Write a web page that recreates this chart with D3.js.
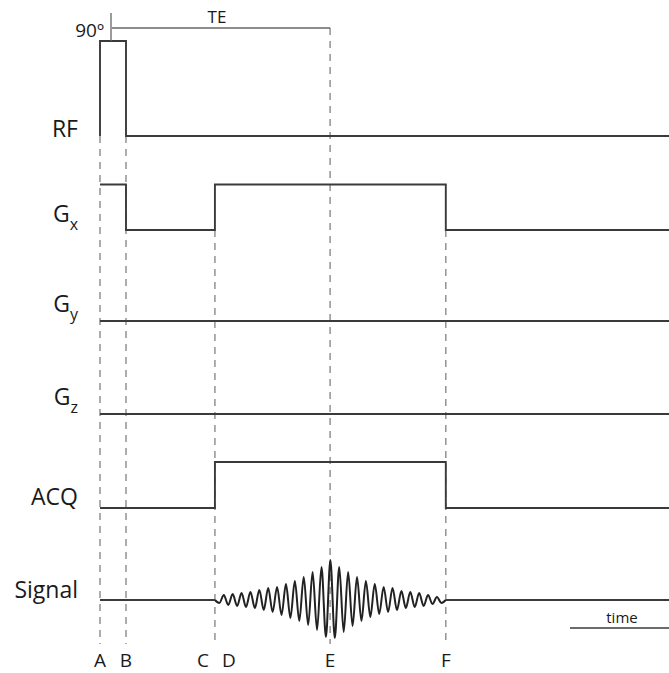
<!DOCTYPE html>
<html>
<head>
<meta charset="utf-8">
<script src="https://cdn.jsdelivr.net/npm/d3@7"></script>
<style>
  html, body { margin: 0; padding: 0; background: #fff; }
  svg { display: block; }
  text { font-family: "Open Sans", "Noto Sans", sans-serif; fill: #1a1a1a; }
</style>
</head>
<body>
<svg id="chart" width="669" height="673"></svg>
<script>
// ---------------- DATA ----------------
// event markers (time, arbitrary units)
const eventNames = ["A", "B", "C", "D", "E", "F"];
const eventTimes = [0, 1, 4.42, 4.42, 8.85, 13.3];
const endTime = 21.9;

// channel names
const channels = ["RF", "Gx", "Gy", "Gz", "ACQ", "Signal"];

// step waveforms: [time, level] (level 0 = baseline, 1 = on)
const rfWave  = [[0, 0], [0, 1], [1, 1], [1, 0], [21.9, 0]];
const gxWave  = [[0, 1], [1, 1], [1, 0], [4.42, 0], [4.42, 1], [13.3, 1], [13.3, 0], [21.9, 0]];
const gyWave  = [[0, 0], [21.9, 0]];
const gzWave  = [[0, 0], [21.9, 0]];
const acqWave = [[0, 0], [4.42, 0], [4.42, 1], [13.3, 1], [13.3, 0], [21.9, 0]];

// echo signal: successive peak / trough values between C and F
const signalExtremes = [
  -3, 5, -5, 6, -6, 7, -7, 8, -8, 10, -10, 12, -12, 13, -15, 16, -18, 19, -21, 23, -25, 28, -30, 33, -37,
  40,
  -38, 33, -32, 28, -26, 23, -21, 19, -17, 16, -14, 13, -12, 12, -10, 9, -8, 8, -7, 7, -6, 5, -4, 3, -3
];

const pulseLabel = "90º";
const teLabel = "TE";
const timeLabel = "time";

// ---------------- LAYOUT ----------------
const svg = d3.select("#chart");
const x = d3.scaleLinear().domain([0, 22]).range([100, 672]);

// baseline / high pixel levels per channel
const layout = {
  RF:     { base: 136, high: 41,    labelY: 137, sub: null },
  Gx:     { base: 230, high: 184.5, labelY: 222, sub: "x" },
  Gy:     { base: 321, high: 321,   labelY: 312, sub: "y" },
  Gz:     { base: 414, high: 414,   labelY: 405, sub: "z" },
  ACQ:    { base: 508, high: 462,   labelY: 505, sub: null },
  Signal: { base: 600, high: 560,   labelY: 598, sub: null }
};
const waves = { RF: rfWave, Gx: gxWave, Gy: gyWave, Gz: gzWave, ACQ: acqWave };

const lineColor = "#3a3a3a";
const dashColor = "#8a8a8a";

// ---------------- DASHED EVENT LINES ----------------
const dashStarts = { A: 136, B: 136, C: 230, D: null, E: 28, F: 230 };
const dashEnd = 644;
const gDash = svg.append("g");
eventNames.forEach((n, i) => {
  if (dashStarts[n] == null) return;
  gDash.append("line")
    .attr("x1", x(eventTimes[i])).attr("x2", x(eventTimes[i]))
    .attr("y1", dashStarts[n]).attr("y2", dashEnd)
    .attr("stroke", dashColor).attr("stroke-width", 1.4)
    .attr("stroke-dasharray", "7,6");
});

// ---------------- STEP WAVEFORMS ----------------
Object.keys(waves).forEach(ch => {
  const L = layout[ch];
  const y = d3.scaleLinear().domain([0, 1]).range([L.base, L.high]);
  const line = d3.line().x(d => x(d[0])).y(d => y(d[1]));
  svg.append("path")
    .attr("d", line(waves[ch]))
    .attr("fill", "none")
    .attr("stroke", lineColor)
    .attr("stroke-width", 1.9)
    .attr("stroke-linejoin", "miter");
});

// ---------------- SIGNAL ----------------
{
  const L = layout.Signal;
  const yS = d3.scaleLinear().domain([0, 40]).range([L.base, L.high]);
  const tC = eventTimes[2], tF = eventTimes[5];
  const hp = (tF - tC) / (signalExtremes.length + 1);
  const pts = [[tC, 0]];
  signalExtremes.forEach((v, i) => pts.push([tC + hp * (i + 1), v]));
  pts.push([tF, 0]);
  const waveLine = d3.line().x(d => x(d[0])).y(d => yS(d[1])).curve(d3.curveMonotoneX);
  const flat = d3.line().x(d => x(d[0])).y(d => yS(d[1]));
  svg.append("path").attr("d", flat([[0, 0], [tC, 0]]))
    .attr("fill", "none").attr("stroke", lineColor).attr("stroke-width", 1.9);
  svg.append("path").attr("d", flat([[tF, 0], [endTime, 0]]))
    .attr("fill", "none").attr("stroke", lineColor).attr("stroke-width", 1.9);
  svg.append("path").attr("d", waveLine(pts))
    .attr("fill", "none").attr("stroke", "#222").attr("stroke-width", 2);
}

// ---------------- CHANNEL LABELS ----------------
channels.forEach(ch => {
  const L = layout[ch];
  const t = svg.append("text")
    .attr("x", 78).attr("y", L.labelY)
    .attr("text-anchor", "end")
    .attr("font-size", 23);
  if (L.sub) {
    t.append("tspan").text(ch.charAt(0));
    t.append("tspan").attr("font-size", 16).attr("dy", 8).text(L.sub);
  } else {
    t.text(ch);
  }
});

// ---------------- EVENT LETTERS ----------------
const letterOffset = { A: 0, B: 0, C: -12, D: 14, E: 0, F: 0 };
eventNames.forEach((n, i) => {
  svg.append("text")
    .attr("x", x(eventTimes[i]) + letterOffset[n])
    .attr("y", 667)
    .attr("text-anchor", "middle")
    .attr("font-size", 19)
    .text(n);
});

// ---------------- 90° MARK & TE ----------------
svg.append("line")
  .attr("x1", x(eventTimes[0]) + 11).attr("x2", x(eventTimes[0]) + 11)
  .attr("y1", 13).attr("y2", 41)
  .attr("stroke", "#666").attr("stroke-width", 1.3);
svg.append("line")
  .attr("x1", x(eventTimes[0]) + 12).attr("x2", x(eventTimes[4]))
  .attr("y1", 28).attr("y2", 28)
  .attr("stroke", "#666").attr("stroke-width", 1.3);
svg.append("text")
  .attr("x", 104).attr("y", 37)
  .attr("text-anchor", "end")
  .attr("font-size", 19)
  .text(pulseLabel);
svg.append("text")
  .attr("x", 217)
  .attr("y", 23)
  .attr("text-anchor", "middle")
  .attr("font-size", 17)
  .text(teLabel);

// ---------------- TIME SCALE BAR ----------------
svg.append("line")
  .attr("x1", 570).attr("x2", 669)
  .attr("y1", 628).attr("y2", 628)
  .attr("stroke", lineColor).attr("stroke-width", 1.6);
svg.append("text")
  .attr("x", 622).attr("y", 623)
  .attr("text-anchor", "middle")
  .attr("font-size", 15)
  .text(timeLabel);
</script>
</body>
</html>
